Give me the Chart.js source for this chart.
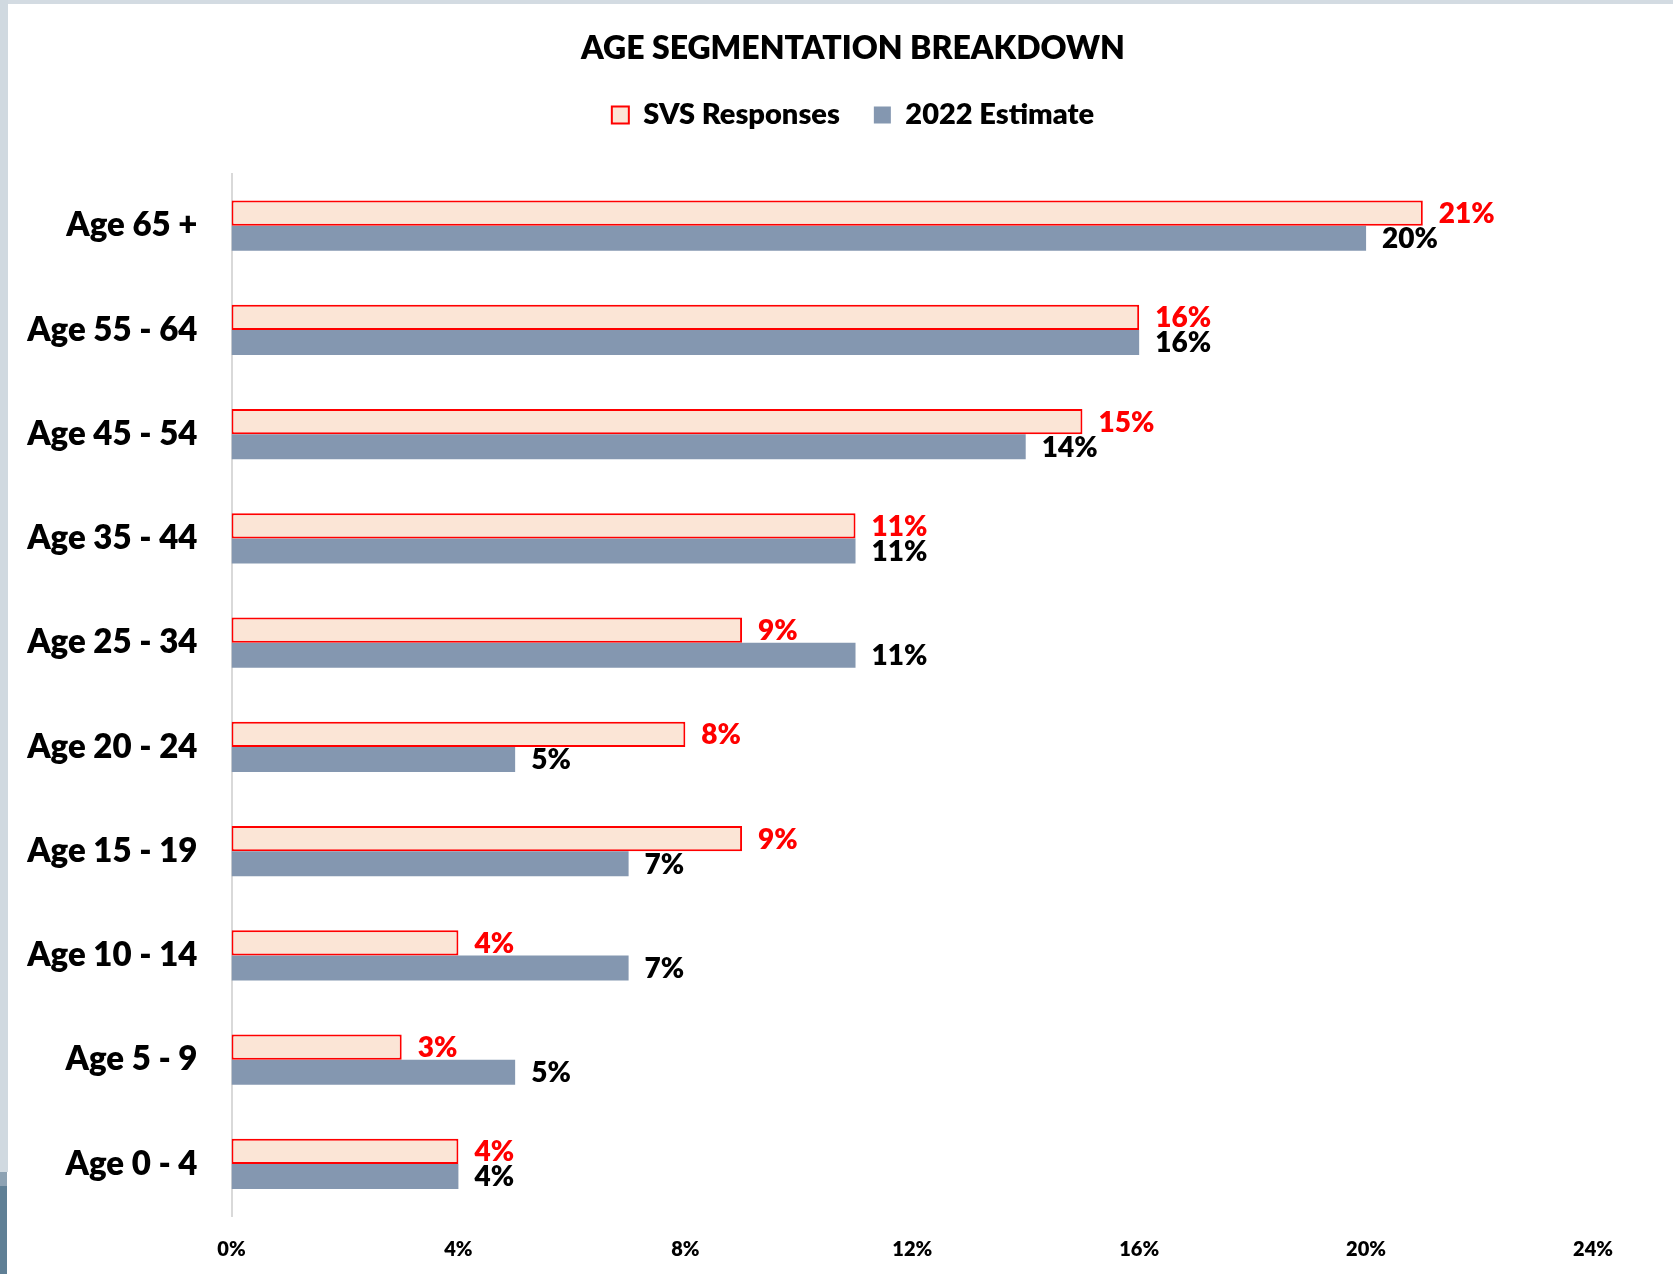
<!DOCTYPE html>
<html>
<head>
<meta charset="utf-8">
<script src="https://cdn.jsdelivr.net/npm/chart.js@4"></script>
<style>
  html, body { margin: 0; padding: 0; background: #fff; }
  #wrap { position: relative; width: 1673px; height: 1274px; overflow: hidden; }
  #edgeTop { position: absolute; left: 0; top: 0; width: 1673px; height: 4px; background: #d3dbe2; }
  #edgeLeft { position: absolute; left: 0; top: 0; width: 8px; height: 1172px; background: #d0d9e0; }
  #edgeLeft2 { position: absolute; left: 0; top: 1172px; width: 7px; height: 14px; background: #8da2b3; }
  #edgeLeft3 { position: absolute; left: 0; top: 1186px; width: 7px; height: 88px; background: #5f7f95; }
  canvas { position: absolute; left: 0; top: 0; }
</style>
</head>
<body>
<div id="wrap">
  <canvas id="chart" width="1673" height="1274"></canvas>
  <div id="edgeTop"></div>
  <div id="edgeLeft"></div>
  <div id="edgeLeft2"></div>
  <div id="edgeLeft3"></div>
</div>
<script>
// data
const ageGroups = ["Age 65 +", "Age 55 - 64", "Age 45 - 54", "Age 35 - 44", "Age 25 - 34",
                   "Age 20 - 24", "Age 15 - 19", "Age 10 - 14", "Age 5 - 9", "Age 0 - 4"];
const svsResponses = [21, 16, 15, 11, 9, 8, 9, 4, 3, 4];
const estimate2022 = [20, 16, 14, 11, 11, 5, 7, 7, 5, 4];
const xTicks = [0, 4, 8, 12, 16, 20, 24];

const FONT = "Lato, 'Open Sans', sans-serif";
const HEAVY = "800";

// draws the % value next to each bar
const valueLabels = {
  id: "valueLabels",
  afterDatasetsDraw(chart) {
    const ctx = chart.ctx;
    ctx.save();
    ctx.font = HEAVY + " 28px " + FONT;
    ctx.textAlign = "left";
    ctx.textBaseline = "middle";
    chart.data.datasets.forEach((ds, i) => {
      const meta = chart.getDatasetMeta(i);
      ctx.fillStyle = i === 0 ? "#ff0000" : "#000000";
      meta.data.forEach((bar, j) => {
        ctx.fillText(ds.data[j] + "%", bar.x + 16, bar.y + 1);
      });
    });
    ctx.restore();
  }
};

// title + legend in the original are centred a bit left of the plot,
// so nudge their boxes after layout
const headerShift = {
  id: "headerShift",
  afterLayout(chart) {
    [chart.titleBlock, chart.legend].forEach(box => {
      if (box) box.left = 113;
    });
  }
};

new Chart(document.getElementById("chart"), {
  type: "bar",
  data: {
    labels: ageGroups,
    datasets: [
      {
        label: "SVS Responses",
        data: svsResponses,
        backgroundColor: "#fbe5d6",
        borderColor: "#ff0000",
        borderWidth: 2,
        borderSkipped: false
      },
      {
        label: "2022 Estimate",
        data: estimate2022,
        backgroundColor: "#8497b0",
        borderWidth: 0
      }
    ]
  },
  options: {
    indexAxis: "y",
    responsive: false,
    animation: false,
    layout: { padding: { left: 0, right: 80, top: 0, bottom: 0 } },
    datasets: { bar: { categoryPercentage: 0.48, barPercentage: 1.0 } },
    scales: {
      x: {
        min: 0,
        max: 24,
        afterBuildTicks(scale) {
          scale.ticks = xTicks.map(v => ({ value: v }));
        },
        afterFit(scale) { scale.height = 58; },
        grid: { display: false, drawTicks: false },
        border: { display: false },
        ticks: {
          padding: 22,
          color: "#000",
          font: { family: FONT, size: 20, weight: HEAVY },
          callback: v => v + "%"
        }
      },
      // empty axis, only used as a gap between legend and plot
      gap: {
        type: "linear",
        axis: "x",
        position: "top",
        afterFit(scale) { scale.height = 34; },
        grid: { display: false, drawTicks: false },
        border: { display: false },
        ticks: { display: false }
      },
      y: {
        afterFit(scale) { scale.width = 231.5; },
        grid: { display: false, drawTicks: false },
        border: { display: true, color: "#d9d9d9", width: 2 },
        ticks: {
          padding: 34,
          color: "#000",
          font: { family: FONT, size: 33, weight: HEAVY }
        }
      }
    },
    plugins: {
      title: {
        display: true,
        text: "AGE SEGMENTATION BREAKDOWN",
        color: "#000",
        font: { family: FONT, size: 32, weight: HEAVY, lineHeight: 1.0 },
        padding: { top: 33, bottom: 1.5 }
      },
      legend: {
        display: true,
        position: "top",
        labels: {
          color: "#000",
          boxWidth: 17,
          boxHeight: 17,
          padding: 34,
          font: { family: FONT, size: 29, weight: HEAVY }
        }
      },
      tooltip: { enabled: false }
    }
  },
  plugins: [valueLabels, headerShift]
});
</script>
</body>
</html>
